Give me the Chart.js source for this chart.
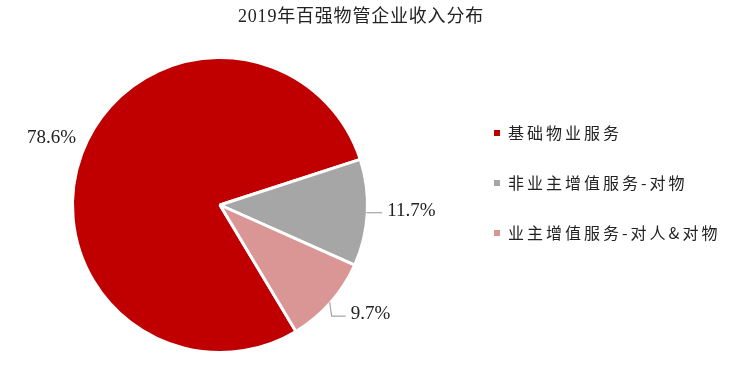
<!DOCTYPE html>
<html>
<head>
<meta charset="utf-8">
<script src="https://cdn.jsdelivr.net/npm/chart.js@4/dist/chart.umd.min.js"></script>
<style>
  html, body { margin: 0; padding: 0; background: #fff; }
  #wrap { width: 734px; height: 365px; }
</style>
</head>
<body>
<div id="wrap"><canvas id="c" width="734" height="365"></canvas></div>
<script>
// 2019年百强物管企业收入分布
const titleText = '2019年百强物管企业收入分布';
const categories = ['基础物业服务', '非业主增值服务-对物', '业主增值服务-对人&对物'];
const shares = [78.6, 11.7, 9.7];
const sliceColors = ['#C00000', '#A6A6A6', '#D99694'];

const serif = '"Liberation Serif", "Times New Roman", "Noto Sans CJK SC", serif';
const cjk = '"Noto Sans CJK SC", "Liberation Serif", sans-serif';

// título y leyenda dibujados a mano
const decor = {
    id: 'decor',
    afterDraw(chart) {
        const ctx = chart.ctx;
        ctx.save();
        ctx.fillStyle = '#222';
        ctx.font = '18px ' + serif;
        ctx.letterSpacing = '0.8px';
        ctx.textAlign = 'center';
        ctx.textBaseline = 'middle';
        ctx.fillText(titleText, 361, 17);

        ctx.font = '16px ' + cjk;
        ctx.letterSpacing = '3px';
        ctx.textAlign = 'left';
        categories.forEach((name, i) => {
            const y = 133 + i * 50;
            ctx.fillStyle = sliceColors[i];
            ctx.fillRect(494, y - 3, 6, 6);
            ctx.fillStyle = '#222';
            ctx.fillText(name, 508, y);
        });
        ctx.restore();
    }
};

// etiquetas de porcentaje con líneas guía
const pctLabels = {
    id: 'pctLabels',
    afterDatasetsDraw(chart) {
        const ctx = chart.ctx;
        const arcs = chart.getDatasetMeta(0).data;
        const leaders = [null, { dx: 16, dy: 0 }, { dx: 2, dy: 14, h: 14 }];
        ctx.save();
        ctx.font = '19px ' + serif;
        ctx.fillStyle = '#222';
        ctx.strokeStyle = '#A6A6A6';
        ctx.lineWidth = 1.2;
        ctx.textBaseline = 'middle';
        arcs.forEach((arc, i) => {
            const mid = (arc.startAngle + arc.endAngle) / 2;
            const r = arc.outerRadius;
            const txt = shares[i].toFixed(1) + '%';
            const L = leaders[i];
            if (!L) {
                const x = arc.x + Math.cos(mid) * r * 1.24 + 3;
                const y = arc.y + Math.sin(mid) * r * 1.24 - 3;
                ctx.textAlign = 'center';
                ctx.fillText(txt, x, y);
                return;
            }
            const x0 = arc.x + Math.cos(mid) * (r - 1);
            const y0 = arc.y + Math.sin(mid) * (r - 1);
            const x1 = x0 + L.dx, y1 = y0 + L.dy;
            const x2 = x1 + (L.h || 0);
            ctx.beginPath();
            ctx.moveTo(x0, y0);
            ctx.lineTo(x1, y1);
            ctx.lineTo(x2, y1);
            ctx.stroke();
            ctx.textAlign = 'left';
            ctx.fillText(txt, x2 + 5, y1 - 2);
        });
        ctx.restore();
    }
};

new Chart(document.getElementById('c'), {
    type: 'pie',
    data: {
        labels: categories,
        datasets: [{
            data: shares,
            backgroundColor: sliceColors,
            borderColor: '#fff',
            borderWidth: 3
        }]
    },
    options: {
        responsive: false,
        animation: false,
        rotation: 149,
        layout: { padding: { left: 71, right: 365, top: 56, bottom: 11 } },
        plugins: {
            legend: { display: false },
            title: { display: false },
            tooltip: { enabled: false }
        }
    },
    plugins: [pctLabels, decor]
});
</script>
</body>
</html>
